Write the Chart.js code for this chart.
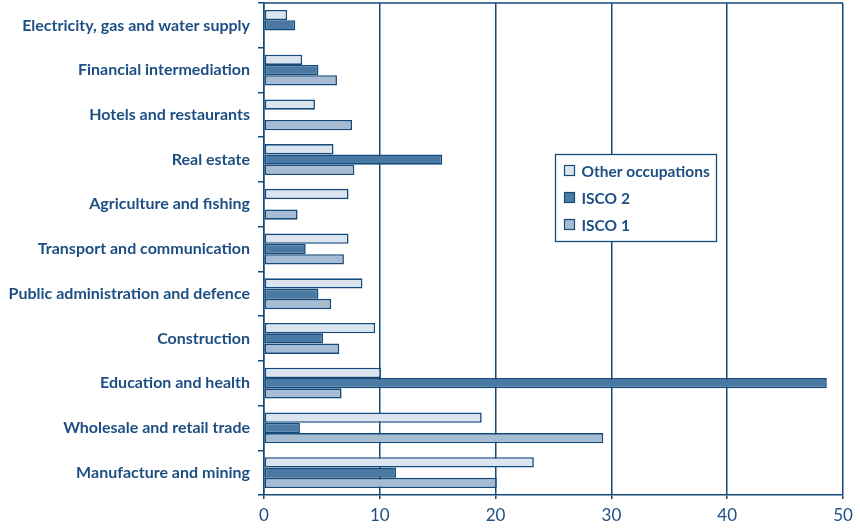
<!DOCTYPE html>
<html>
<head>
<meta charset="utf-8">
<script src="https://cdn.jsdelivr.net/npm/chart.js@4.4.1/dist/chart.umd.min.js"></script>
<style>
  html, body { margin: 0; padding: 0; background: #ffffff; }
  #wrap { width: 860px; height: 528px; position: relative; }
</style>
</head>
<body>
<div id="wrap"><canvas id="c" width="860" height="528"></canvas></div>
<script>
// Sectors, listed top to bottom
const sectors = [
  'Electricity, gas and water supply',
  'Financial intermediation',
  'Hotels and restaurants',
  'Real estate',
  'Agriculture and fishing',
  'Transport and communication',
  'Public administration and defence',
  'Construction',
  'Education and health',
  'Wholesale and retail trade',
  'Manufacture and mining'
];

const otherOccupations = [2.0, 3.3, 4.4, 6.0, 7.3, 7.3, 8.5, 9.6, 10.1, 18.8, 23.3];
const isco2 = [2.7, 4.7, 0, 15.4, 0, 3.6, 4.7, 5.1, 48.6, 3.1, 11.4];
const isco1 = [0, 6.3, 7.6, 7.8, 2.9, 6.9, 5.8, 6.5, 6.7, 29.3, 20.1];

const xTicks = [0, 10, 20, 30, 40, 50];

const NAVY = '#144a7c';
const TEXT = '#1d4f84';
const LABEL_FONT = "Lato, 'Liberation Sans', sans-serif";

// Frame along the top of the plot area
const topFrame = {
  id: 'topFrame',
  afterDraw(chart) {
    const { ctx, chartArea: a } = chart;
    ctx.save();
    ctx.strokeStyle = NAVY;
    ctx.lineWidth = 1.5;
    ctx.beginPath();
    ctx.moveTo(a.left, a.top);
    ctx.lineTo(a.right, a.top);
    ctx.stroke();
    ctx.restore();
  }
};

// Boxed legend placed inside the plot area
const boxLegend = {
  id: 'boxLegend',
  afterDraw(chart) {
    const { ctx } = chart;
    const x = 555.5, y = 154.5, w = 161, h = 87;
    ctx.save();
    ctx.fillStyle = '#ffffff';
    ctx.fillRect(x, y, w, h);
    ctx.strokeStyle = NAVY;
    ctx.lineWidth = 1.3;
    ctx.strokeRect(x, y, w, h);
    ctx.font = "bold 15.5px " + LABEL_FONT;
    ctx.textBaseline = 'middle';
    chart.data.datasets.forEach((ds, i) => {
      const cy = y + 16 + i * 27;
      ctx.fillStyle = ds.backgroundColor;
      ctx.fillRect(x + 9, cy - 5, 10, 10);
      ctx.strokeStyle = NAVY;
      ctx.lineWidth = 1.2;
      ctx.strokeRect(x + 9, cy - 5, 10, 10);
      ctx.fillStyle = TEXT;
      ctx.fillText(ds.label, x + 26, cy + 1);
    });
    ctx.restore();
  }
};

const barStyle = { borderColor: NAVY, borderWidth: 1.6, borderSkipped: false };

new Chart(document.getElementById('c'), {
  type: 'bar',
  data: {
    labels: sectors,
    datasets: [
      { label: 'Other occupations', data: otherOccupations, backgroundColor: '#dbe5ef', ...barStyle },
      { label: 'ISCO 2', data: isco2, backgroundColor: '#4a79a3', ...barStyle },
      { label: 'ISCO 1', data: isco1, backgroundColor: '#a6bcd2', ...barStyle }
    ]
  },
  options: {
    indexAxis: 'y',
    responsive: false,
    animation: false,
    layout: { padding: { top: 3, right: 17, left: 0, bottom: 0 } },
    datasets: { bar: { categoryPercentage: 0.69, barPercentage: 1.0 } },
    plugins: { legend: { display: false }, tooltip: { enabled: false } },
    scales: {
      x: {
        min: 0, max: 50,
        afterBuildTicks(axis) { axis.ticks = xTicks.map(v => ({ value: v })); },
        afterFit(axis) { axis.height = 33; axis.paddingLeft = 0; axis.paddingRight = 0; },
        grid: { color: NAVY, lineWidth: 1.5, tickLength: 4, drawTicks: true },
        border: { color: NAVY, width: 1.5 },
        ticks: { color: TEXT, font: { family: LABEL_FONT, size: 17 }, padding: 6 }
      },
      y: {
        afterFit(axis) { axis.width = 264; axis.paddingTop = 0; axis.paddingBottom = 0; },
        grid: { offset: true, drawOnChartArea: false, color: NAVY, lineWidth: 1.5, tickLength: 6 },
        border: { color: NAVY, width: 1.5 },
        ticks: { color: TEXT, font: { family: LABEL_FONT, size: 16, weight: 'bold' }, padding: 8, autoSkip: false }
      }
    }
  },
  plugins: [topFrame, boxLegend]
});
</script>
</body>
</html>
